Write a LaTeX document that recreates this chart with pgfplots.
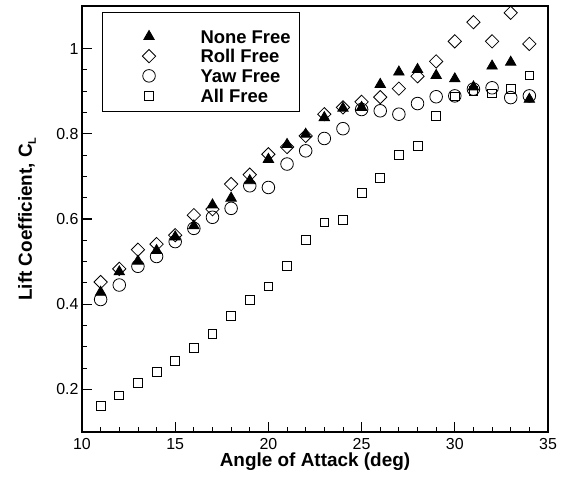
\documentclass[border=0pt]{standalone}
\usepackage{fontspec}
\setmainfont{Liberation Sans}
\usepackage{pgfplots}
\pgfplotsset{compat=1.18}

% lift coefficient vs angle of attack, four configurations
\pgfplotstableread{
aoa none  roll  yaw   all
11  0.428 0.452 0.411 0.161
12  0.476 0.483 0.445 0.186
13  0.501 0.528 0.489 0.216
14  0.526 0.541 0.512 0.241
15  0.558 0.562 0.547 0.266
16  0.584 0.609 0.578 0.298
17  0.633 0.623 0.604 0.330
18  0.649 0.682 0.625 0.373
19  0.690 0.704 0.678 0.411
20  0.740 0.752 0.674 0.442
21  0.775 0.769 0.729 0.490
22  0.799 0.795 0.760 0.551
23  0.838 0.846 0.789 0.592
24  0.860 0.862 0.812 0.597
25  0.862 0.875 0.857 0.661
26  0.916 0.886 0.854 0.697
27  0.945 0.906 0.846 0.750
28  0.951 0.935 0.871 0.771
29  0.937 0.970 0.887 0.842
30  0.929 1.017 0.889 0.888
31  0.910 1.062 0.905 0.900
32  0.959 1.017 0.908 0.895
33  0.968 1.084 0.885 0.906
34  0.881 1.011 0.889 0.937
}\cl

\begin{document}
\begin{tikzpicture}
\begin{axis}[
  scale only axis,
  width=466bp, height=426bp,
  xmin=10, xmax=35, ymin=0.1, ymax=1.1,
  xtick={10,15,20,25,30,35},
  ytick={0.2,0.4,0.6,0.8,1},
  minor x tick num=4, minor y tick num=3,
  tick align=inside,
  xtick pos=left, ytick pos=left,
  major tick length=10bp, minor tick length=5bp,
  every major tick/.style={black, line width=1.2bp},
  every minor tick/.style={black, line width=0.8bp},
  axis line style={line width=1.3bp},
  /pgf/number format/assume math mode=true,
  tick label style={font=\fontsize{16}{19}\selectfont},
  xticklabel style={yshift=-3bp},
  label style={font=\fontsize{19}{22}\selectfont\bfseries},
  xlabel={Angle of Attack (deg)},
  ylabel={Lift Coefficient, C\raisebox{-0.4ex}{\fontsize{11}{11}\selectfont L}},
  xlabel style={at={(axis description cs:0.5,0)}, anchor=center, yshift=-30bp},
  ylabel style={at={(axis description cs:-0.118,0.5)}, anchor=center},
  legend style={at={(axis description cs:0.043,0.986)}, anchor=north west,
    draw=black, line width=1bp,
    font=\fontsize{18.5}{22}\selectfont\bfseries,
    inner xsep=4bp, inner ysep=4bp, row sep=-12.3bp,
    nodes={inner xsep=5bp, inner ysep=0bp, text height=26.6bp, text depth=5.4bp,
      anchor=base west}},
  legend cell align=left,
  legend image code/.code={\path (0bp,0bp) (88bp,0bp);
    \draw[#1] plot coordinates {(42bp,6.6bp)};},
  mark options={solid, line width=0.8bp},
]
\addplot[only marks, black, mark=triangle*, mark size=6bp,
  mark options={fill=black, line width=0.8bp}] table[x=aoa, y=none] {\cl};
\addlegendentry{None Free}
\addplot[only marks, black, mark=square, mark size=4.7bp,
  mark options={rotate=45, fill=none, line width=0.8bp}] table[x=aoa, y=roll] {\cl};
\addlegendentry{Roll Free}
\addplot[only marks, black, mark=o, mark size=6.3bp,
  mark options={fill=none, line width=0.8bp}] table[x=aoa, y=yaw] {\cl};
\addlegendentry{Yaw Free}
\addplot[only marks, black, mark=square, mark size=4.4bp,
  mark options={fill=none, line width=0.8bp}] table[x=aoa, y=all] {\cl};
\addlegendentry{All Free}
\end{axis}
\pgfresetboundingbox
\path[use as bounding box] ([xshift=-82bp,yshift=-45bp]current axis.south west)
  rectangle ([xshift=483bp,yshift=432bp]current axis.south west);
\end{tikzpicture}
\end{document}
